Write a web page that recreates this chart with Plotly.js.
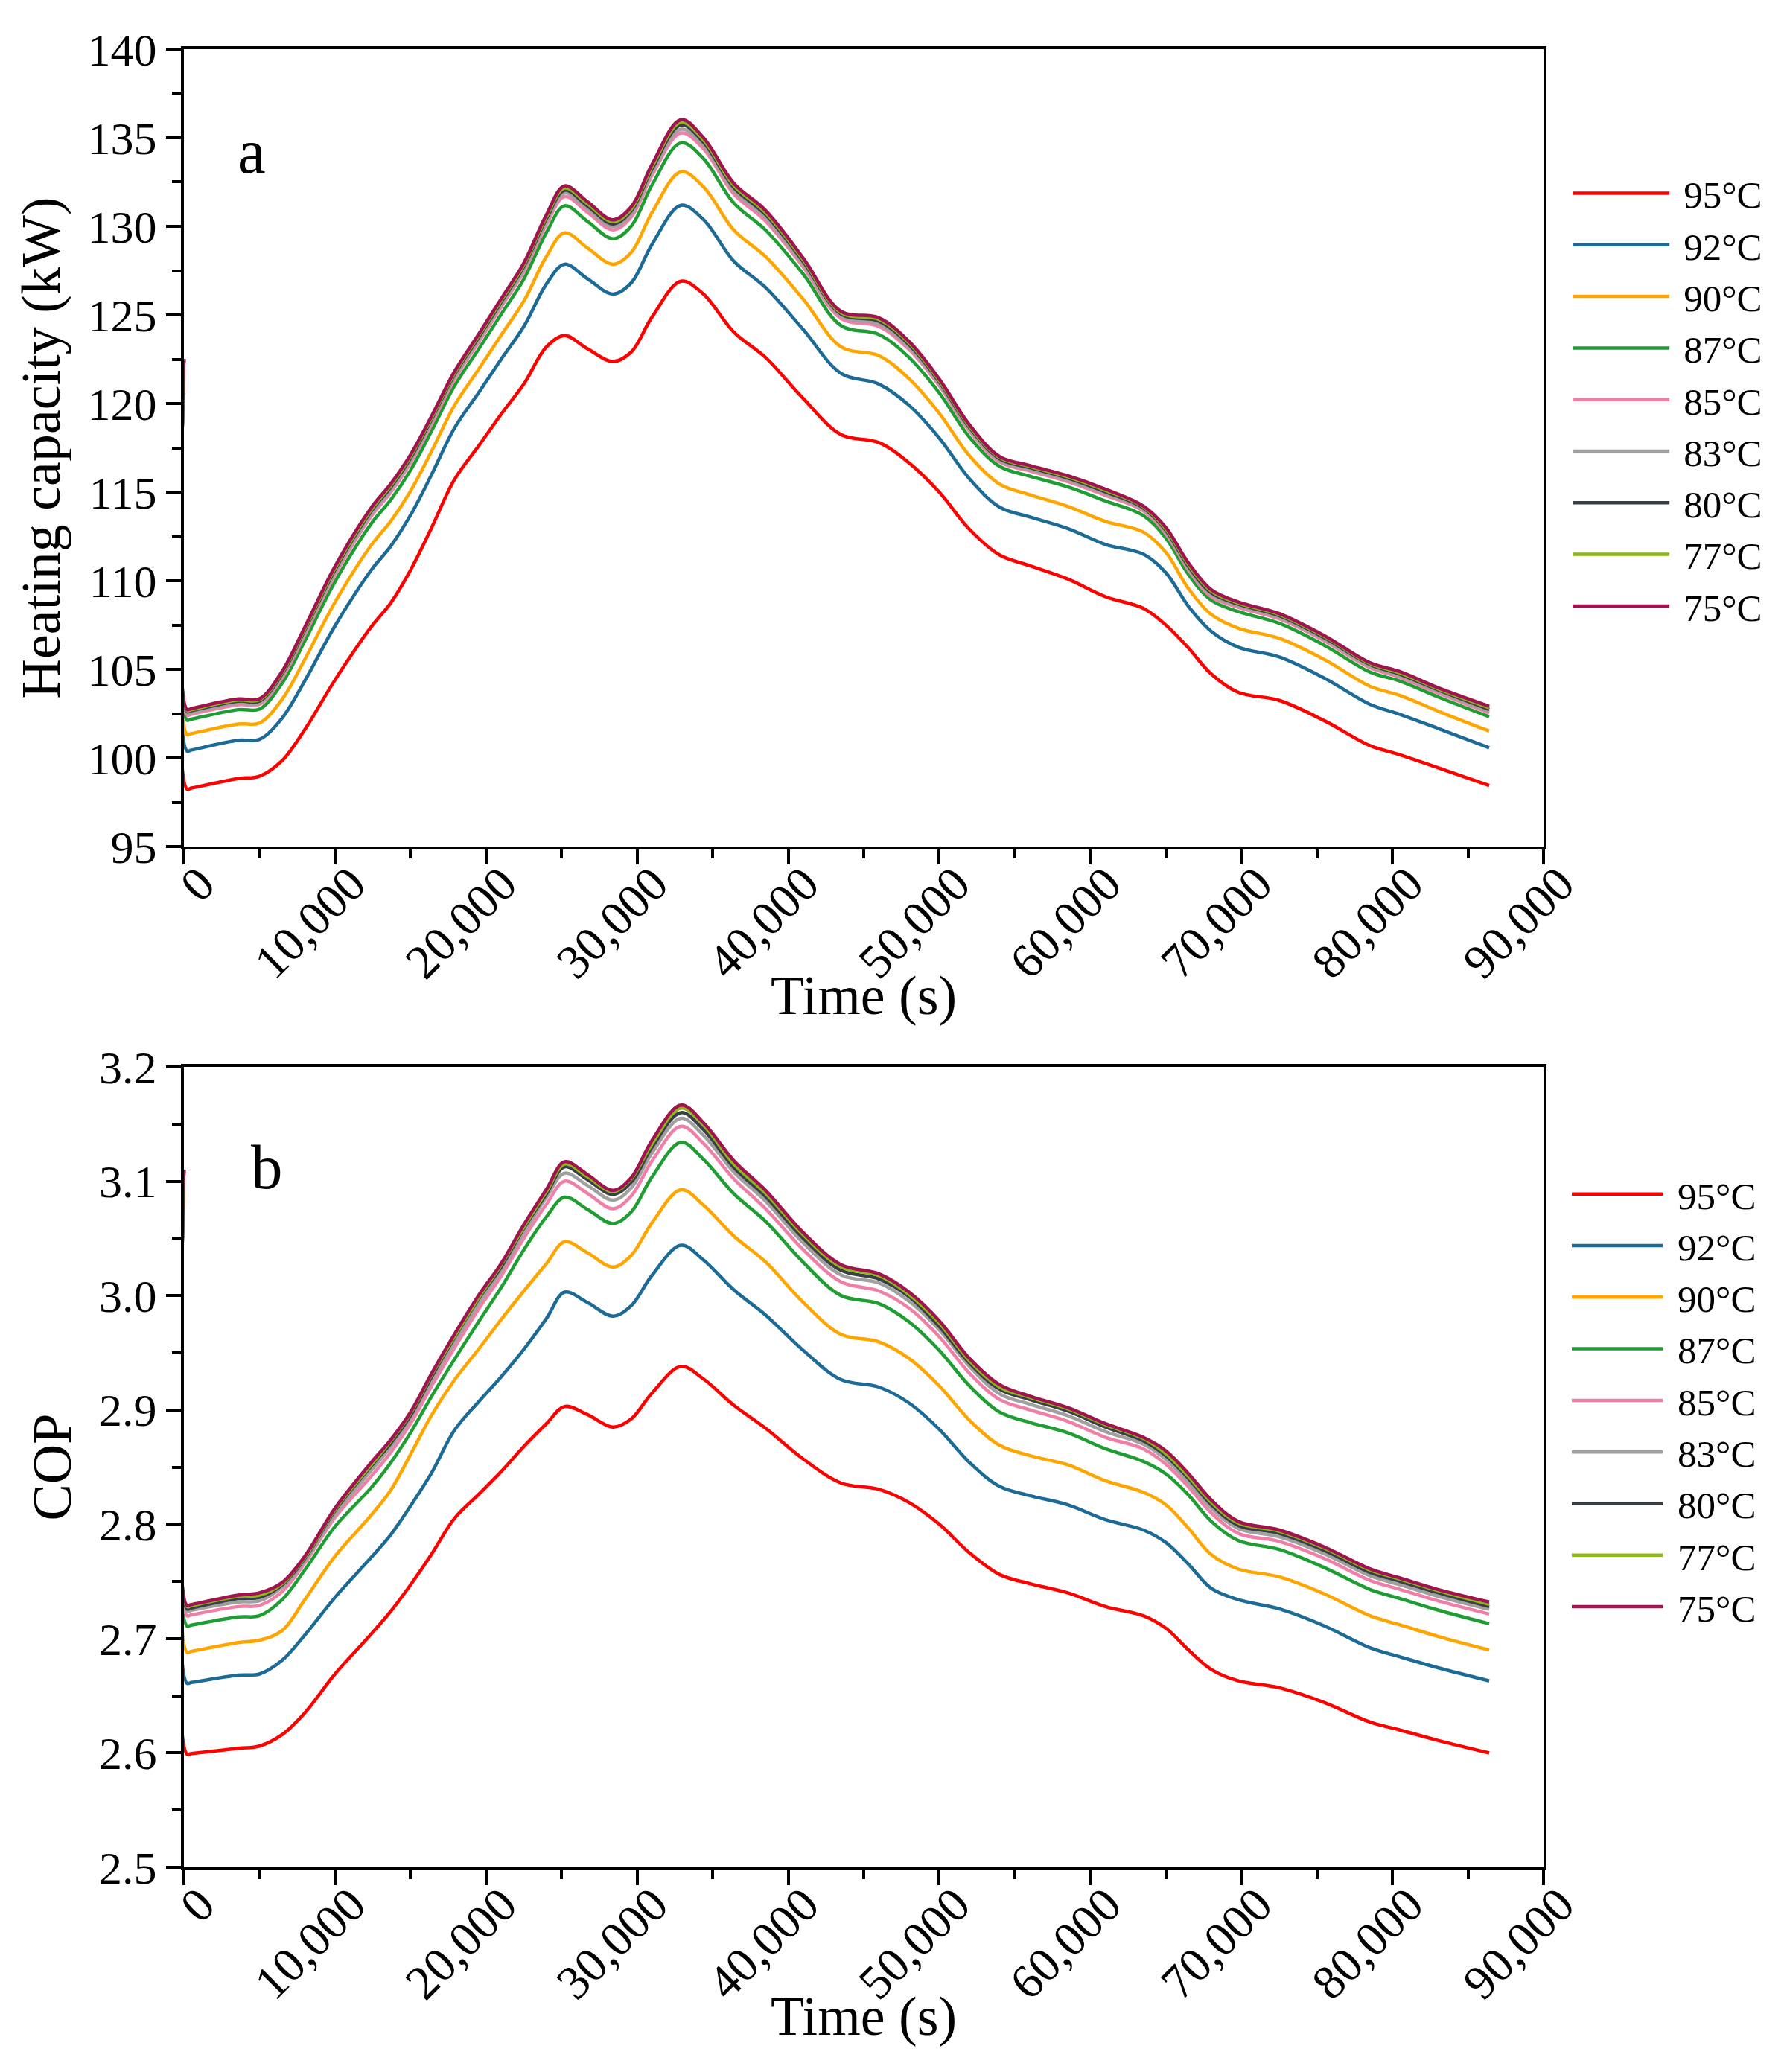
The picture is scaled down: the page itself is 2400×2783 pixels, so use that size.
<!DOCTYPE html>
<html>
<head>
<meta charset="utf-8">
<script src="https://cdn.plot.ly/plotly-3.0.1.min.js"></script>
<style>html,body{margin:0;padding:0;background:#fff;}#chart{width:2400px;height:2783px;}</style>
</head>
<body>
<div id="chart"></div>
<script>
// Time points (s)
const time = [0, 200, 500, 3600, 5000, 6500, 8000, 10000, 12400, 13700, 15000, 16400, 17900, 19500, 21000, 22500, 24000, 25200, 26700, 28400, 29600, 31000, 32900, 34400, 36400, 38500, 41000, 43500, 46000, 48000, 50000, 52000, 54000, 56000, 58500, 61000, 63500, 65000, 66500, 68000, 69800, 72500, 75500, 78500, 80500, 83000, 86400];

const seriesNames = ['95\u00B0C', '92\u00B0C', '90\u00B0C', '87\u00B0C', '85\u00B0C', '83\u00B0C', '80\u00B0C', '77\u00B0C', '75\u00B0C'];
const seriesColors = ['#FF0000', '#1C6A96', '#FFA500', '#1E9E32', '#F07FA8', '#A0A0A0', '#3A3F46', '#8DB61A', '#A0134F'];

// Panel a: Heating capacity (kW)
const heat95 = [122.5, 98.25, 98.3, 98.84, 98.97, 99.85, 101.6, 104.4, 107.4, 108.76, 110.6, 113.0, 115.7, 117.6, 119.4, 121.1, 123.2, 123.84, 123.1, 122.37, 122.9, 124.9, 126.9, 126.17, 124.03, 122.6, 120.28, 118.25, 117.8, 116.65, 115.0, 112.9, 111.45, 110.85, 110.1, 109.1, 108.45, 107.5, 106.2, 104.74, 103.7, 103.25, 102.1, 100.7, 100.18, 99.45, 98.44];
const heat92 = [122.5, 100.4, 100.45, 101.0, 101.05, 102.25, 104.35, 107.45, 110.6, 111.96, 113.7, 116.0, 118.6, 120.6, 122.5, 124.35, 126.75, 127.86, 127.05, 126.18, 126.8, 129.0, 131.19, 130.37, 128.03, 126.55, 124.17, 121.7, 121.1, 119.9, 118.05, 115.75, 114.15, 113.6, 112.95, 112.05, 111.5, 110.45, 108.55, 107.15, 106.25, 105.7, 104.5, 103.03, 102.46, 101.67, 100.58];
const heat90 = [122.5, 101.33, 101.38, 101.92, 101.97, 103.31, 105.56, 108.79, 112.01, 113.37, 115.06, 117.32, 119.88, 121.92, 123.86, 125.78, 128.31, 129.63, 128.79, 127.86, 128.52, 130.8, 133.08, 132.22, 129.79, 128.29, 125.88, 123.2, 122.7, 121.4, 119.45, 117.05, 115.45, 114.85, 114.2, 113.35, 112.75, 111.6, 109.55, 108.1, 107.32, 106.75, 105.55, 104.05, 103.53, 102.65, 101.52];
const heat87 = [122.5, 102.14, 102.19, 102.73, 102.76, 104.22, 106.6, 109.95, 113.22, 114.58, 116.24, 118.46, 120.98, 123.06, 125.04, 127.02, 129.66, 131.16, 130.29, 129.3, 130.0, 132.36, 134.71, 133.81, 131.31, 129.79, 127.3, 124.4, 123.9, 122.6, 120.6, 118.1, 116.45, 115.9, 115.3, 114.5, 113.68, 112.4, 110.35, 108.9, 108.26, 107.6, 106.35, 104.85, 104.34, 103.45, 102.33];
const heat85 = [122.5, 102.42, 102.47, 103.01, 103.03, 104.53, 106.96, 110.35, 113.64, 115.0, 116.65, 118.85, 121.36, 123.45, 125.45, 127.44, 130.12, 131.68, 130.8, 129.8, 130.51, 132.9, 135.27, 134.36, 131.83, 130.3, 127.7, 124.8, 124.35, 123.05, 121.0, 118.45, 116.7, 116.2, 115.6, 114.82, 113.95, 112.65, 110.6, 109.1, 108.5, 107.85, 106.6, 105.1, 104.55, 103.67, 102.54];
const heat83 = [122.5, 102.53, 102.58, 103.12, 103.13, 104.65, 107.1, 110.5, 113.8, 115.16, 116.8, 119.0, 121.5, 123.6, 125.6, 127.6, 130.3, 131.88, 131.0, 129.99, 130.7, 133.1, 135.48, 134.57, 132.03, 130.5, 127.85, 124.95, 124.5, 123.2, 121.12, 118.55, 116.8, 116.3, 115.7, 114.93, 114.05, 112.75, 110.7, 109.22, 108.6, 107.95, 106.7, 105.2, 104.65, 103.77, 102.64];
const heat80 = [122.5, 102.62, 102.67, 103.21, 103.21, 104.75, 107.21, 110.62, 113.93, 115.29, 116.92, 119.12, 121.62, 123.72, 125.72, 127.73, 130.44, 132.04, 131.16, 130.14, 130.86, 133.26, 135.72, 134.74, 132.19, 130.66, 128.0, 125.05, 124.65, 123.32, 121.22, 118.65, 116.88, 116.38, 115.8, 115.02, 114.12, 112.85, 110.8, 109.32, 108.68, 108.03, 106.78, 105.28, 104.73, 103.85, 102.74];
const heat77 = [122.5, 102.68, 102.73, 103.27, 103.28, 104.82, 107.29, 110.71, 114.02, 115.38, 117.02, 119.21, 121.7, 123.81, 125.82, 127.83, 130.55, 132.16, 131.28, 130.26, 130.97, 133.39, 135.88, 134.86, 132.31, 130.78, 128.1, 125.12, 124.75, 123.42, 121.3, 118.72, 116.95, 116.45, 115.87, 115.1, 114.18, 112.92, 110.9, 109.42, 108.74, 108.1, 106.85, 105.33, 104.8, 103.91, 102.84];
const heat75 = [122.5, 102.74, 102.79, 103.33, 103.34, 104.89, 107.38, 110.81, 114.12, 115.48, 117.11, 119.3, 121.79, 123.9, 125.91, 127.93, 130.66, 132.28, 131.4, 130.37, 131.09, 133.51, 136.02, 134.99, 132.43, 130.9, 128.2, 125.2, 124.84, 123.5, 121.38, 118.8, 117.0, 116.5, 115.93, 115.17, 114.22, 113.0, 111.0, 109.5, 108.8, 108.15, 106.9, 105.38, 104.87, 103.97, 102.92];

// Panel b: COP
const cop95 = [3.11, 2.599, 2.5995, 2.604, 2.606, 2.616, 2.635, 2.669, 2.704, 2.724, 2.747, 2.774, 2.805, 2.826, 2.846, 2.868, 2.888, 2.903, 2.896, 2.885, 2.892, 2.915, 2.938, 2.927, 2.904, 2.884, 2.857, 2.836, 2.8305, 2.819, 2.800, 2.775, 2.756, 2.748, 2.740, 2.728, 2.720, 2.709, 2.690, 2.673, 2.663, 2.657, 2.644, 2.627, 2.620, 2.611, 2.600];
const cop92 = [3.11, 2.661, 2.6616, 2.668, 2.669, 2.681, 2.703, 2.736, 2.771, 2.791, 2.816, 2.845, 2.882, 2.907, 2.929, 2.953, 2.980, 3.003, 2.994, 2.982, 2.991, 3.018, 3.044, 3.031, 3.005, 2.983, 2.952, 2.9265, 2.920, 2.906, 2.883, 2.854, 2.833, 2.825, 2.817, 2.804, 2.795, 2.784, 2.765, 2.744, 2.734, 2.726, 2.711, 2.692, 2.684, 2.6745, 2.663];
const cop90 = [3.11, 2.688, 2.6888, 2.6965, 2.6986, 2.707, 2.734, 2.772, 2.808, 2.830, 2.861, 2.8955, 2.926, 2.953, 2.979, 3.004, 3.028, 3.047, 3.0375, 3.025, 3.035, 3.064, 3.0925, 3.079, 3.052, 3.0295, 2.994, 2.966, 2.9595, 2.945, 2.921, 2.891, 2.869, 2.860, 2.852, 2.838, 2.828, 2.817, 2.7964, 2.7735, 2.7608, 2.754, 2.739, 2.720, 2.712, 2.702, 2.690];
const cop87 = [3.11, 2.711, 2.7118, 2.719, 2.720, 2.734, 2.760, 2.798, 2.832, 2.854, 2.880, 2.912, 2.944, 2.977, 3.007, 3.040, 3.069, 3.086, 3.0755, 3.063, 3.073, 3.104, 3.134, 3.119, 3.089, 3.065, 3.029, 3.000, 2.993, 2.977, 2.952, 2.921, 2.898, 2.889, 2.880, 2.866, 2.855, 2.844, 2.8255, 2.8026, 2.7857, 2.778, 2.762, 2.743, 2.735, 2.725, 2.713];
const cop85 = [3.11, 2.720, 2.7208, 2.728, 2.729, 2.741, 2.766, 2.806, 2.842, 2.863, 2.888, 2.921, 2.954, 2.988, 3.017, 3.050, 3.080, 3.100, 3.0895, 3.076, 3.087, 3.118, 3.148, 3.133, 3.102, 3.076, 3.040, 3.012, 3.004, 2.989, 2.964, 2.932, 2.909, 2.900, 2.890, 2.876, 2.866, 2.8525, 2.8326, 2.810, 2.792, 2.785, 2.770, 2.751, 2.743, 2.733, 2.7215];
const cop83 = [3.11, 2.724, 2.7248, 2.732, 2.733, 2.745, 2.768, 2.809, 2.847, 2.868, 2.893, 2.926, 2.959, 2.993, 3.022, 3.055, 3.086, 3.107, 3.0965, 3.0835, 3.094, 3.125, 3.155, 3.140, 3.108, 3.0825, 3.046, 3.018, 3.011, 2.995, 2.970, 2.938, 2.914, 2.905, 2.895, 2.881, 2.870, 2.8567, 2.8367, 2.8143, 2.7961, 2.789, 2.774, 2.755, 2.747, 2.737, 2.7256];
const cop80 = [3.11, 2.726, 2.7268, 2.735, 2.736, 2.747, 2.770, 2.812, 2.851, 2.871, 2.895, 2.929, 2.963, 2.997, 3.025, 3.059, 3.089, 3.1125, 3.1015, 3.0885, 3.099, 3.130, 3.160, 3.145, 3.112, 3.0865, 3.050, 3.022, 3.0145, 2.999, 2.973, 2.941, 2.918, 2.909, 2.899, 2.885, 2.873, 2.860, 2.840, 2.8172, 2.799, 2.792, 2.777, 2.758, 2.750, 2.740, 2.728];
const cop77 = [3.11, 2.728, 2.7288, 2.737, 2.738, 2.748, 2.771, 2.813, 2.852, 2.873, 2.897, 2.931, 2.964, 2.998, 3.027, 3.060, 3.091, 3.115, 3.104, 3.091, 3.102, 3.133, 3.164, 3.149, 3.115, 3.0895, 3.053, 3.025, 3.0175, 3.001, 2.976, 2.943, 2.920, 2.911, 2.901, 2.887, 2.875, 2.8617, 2.8417, 2.8193, 2.801, 2.794, 2.779, 2.760, 2.752, 2.742, 2.730];
const cop75 = [3.11, 2.729, 2.7298, 2.738, 2.740, 2.749, 2.772, 2.814, 2.854, 2.874, 2.898, 2.932, 2.966, 3.000, 3.028, 3.062, 3.093, 3.117, 3.106, 3.092, 3.103, 3.136, 3.1666, 3.151, 3.118, 3.092, 3.055, 3.027, 3.019, 3.003, 2.978, 2.945, 2.922, 2.912, 2.902, 2.888, 2.876, 2.8642, 2.8442, 2.8213, 2.8024, 2.795, 2.780, 2.761, 2.753, 2.743, 2.732];

const heatSeries = [heat95, heat92, heat90, heat87, heat85, heat83, heat80, heat77, heat75];
const copSeries = [cop95, cop92, cop90, cop87, cop85, cop83, cop80, cop77, cop75];

const FONT = 'Liberation Serif, Times New Roman, serif';
const traces = [];
heatSeries.forEach((ys, i) => {
  traces.push({x: time, y: ys, type: 'scatter', mode: 'lines', name: seriesNames[i],
    line: {color: seriesColors[i], width: 4.5, shape: 'spline', smoothing: 1.0},
    xaxis: 'x', yaxis: 'y', legend: 'legend'});
});
copSeries.forEach((ys, i) => {
  traces.push({x: time, y: ys, type: 'scatter', mode: 'lines', name: seriesNames[i],
    line: {color: seriesColors[i], width: 4.5, shape: 'spline', smoothing: 1.0},
    xaxis: 'x2', yaxis: 'y2', legend: 'legend2'});
});

function xAxis(anchor) {
  return {
    anchor: anchor, domain: [0.1029, 0.8638], range: [0, 90000], tick0: 0, dtick: 10000,
    ticks: 'outside', ticklen: 20, tickwidth: 4, tickcolor: '#000',
    showline: true, linewidth: 4, linecolor: '#000', mirror: true,
    showgrid: false, zeroline: false, tickangle: -45, tickformat: ',',
    ticklabelshift: 22, ticklabelstandoff: -38,
    tickfont: {family: FONT, size: 65, color: '#000'},
    minor: {dtick: 5000, ticks: 'outside', ticklen: 12, tickwidth: 4, tickcolor: '#000', showgrid: false},
    automargin: false
  };
}
function yAxis(anchor, domain, range, dtick, minorDtick, fmt, title) {
  return {
    anchor: anchor, domain: domain, range: range, dtick: dtick, tick0: range[0],
    ticks: 'outside', ticklen: 20, tickwidth: 4, tickcolor: '#000',
    showline: true, linewidth: 4, linecolor: '#000', mirror: true,
    showgrid: false, zeroline: false, tickformat: fmt,
    tickfont: {family: FONT, size: 62, color: '#000'},
    minor: {dtick: minorDtick, ticks: 'outside', ticklen: 12, tickwidth: 4, tickcolor: '#000', showgrid: false},
    title: {text: title, font: {family: FONT, size: 74, color: '#000'}, standoff: 14},
    automargin: false
  };
}

const layout = {
  width: 2400, height: 2783,
  margin: {l: 0, r: 0, t: 0, b: 0},
  paper_bgcolor: '#fff', plot_bgcolor: '#fff',
  showlegend: true,
  xaxis: xAxis('y'),
  yaxis: yAxis('x', [0.5914, 0.9763], [95, 140], 5, 2.5, 'd', 'Heating capacity (kW)'),
  xaxis2: xAxis('y2'),
  yaxis2: yAxis('x2', [0.0988, 0.4851], [2.5, 3.2], 0.1, 0.05, '.1f', 'COP'),
  legend: {x: 0.878, xanchor: 'left', y: 0.921, yanchor: 'top', bgcolor: 'rgba(0,0,0,0)',
    font: {family: FONT, size: 51, color: '#000'}, itemwidth: 144, tracegroupgap: 0},
  legend2: {x: 0.8775, xanchor: 'left', y: 0.438, yanchor: 'top', bgcolor: 'rgba(0,0,0,0)',
    font: {family: FONT, size: 51, color: '#000'}, itemwidth: 137, tracegroupgap: 0},
  annotations: [
    {text: 'a', xref: 'paper', yref: 'paper', x: 0.1408, y: 0.9270, xanchor: 'center', yanchor: 'middle',
     showarrow: false, font: {family: FONT, size: 85, color: '#000'}},
    {text: 'b', xref: 'paper', yref: 'paper', x: 0.1492, y: 0.4369, xanchor: 'center', yanchor: 'middle',
     showarrow: false, font: {family: FONT, size: 85, color: '#000'}},
    {text: 'Time (s)', xref: 'paper', yref: 'paper', x: 0.4833, y: 0.5196, xanchor: 'center', yanchor: 'middle',
     showarrow: false, font: {family: FONT, size: 74, color: '#000'}},
    {text: 'Time (s)', xref: 'paper', yref: 'paper', x: 0.4833, y: 0.0269, xanchor: 'center', yanchor: 'middle',
     showarrow: false, font: {family: FONT, size: 74, color: '#000'}}
  ]
};

Plotly.newPlot('chart', traces, layout, {staticPlot: true, displayModeBar: false}).then(function () {
  // lengthen legend line samples to match the reference
  document.querySelectorAll('.legend .traces .legendlines path').forEach(function (p) {
    p.setAttribute('d', 'M5,0h130');
  });
  document.querySelectorAll('.legend2 .traces .legendlines path').forEach(function (p) {
    p.setAttribute('d', 'M5,0h122');
  });
});
</script>
</body>
</html>
